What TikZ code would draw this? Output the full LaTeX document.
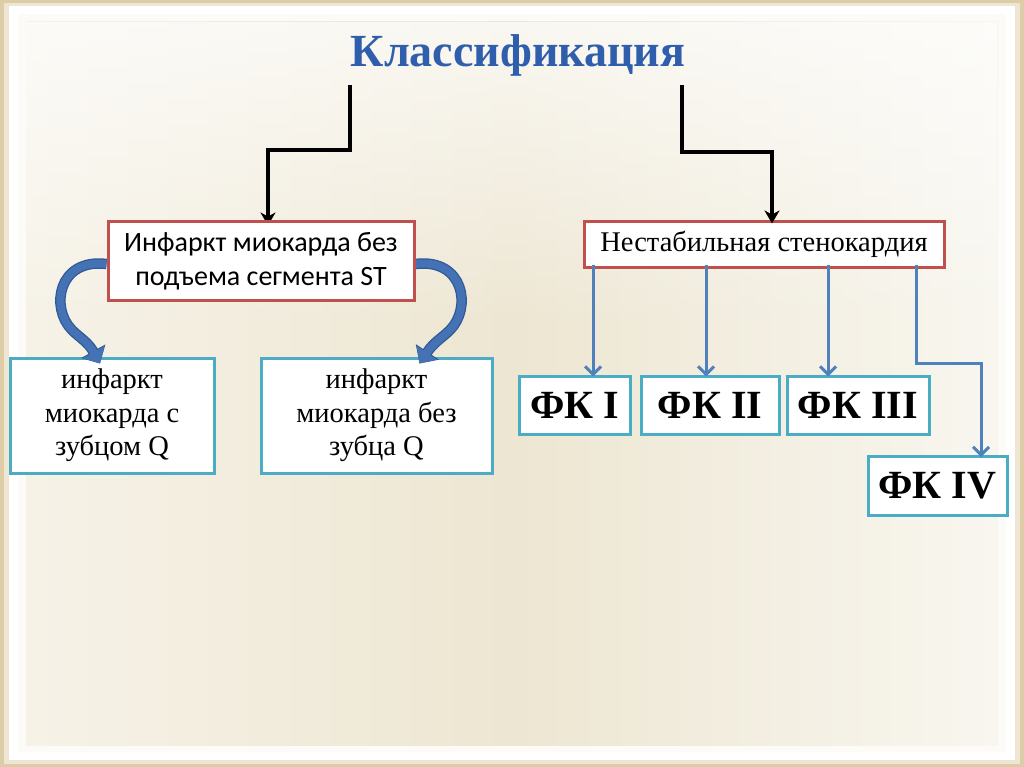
\documentclass[tikz,border=0pt]{standalone}
\usepackage{fontspec}
\setmainfont{Liberation Serif}
\newfontfamily\calib{Carlito}
\usetikzlibrary{arrows.meta,calc,fadings}
\definecolor{redb}{HTML}{C0504D}
\definecolor{cyanb}{HTML}{4BACC6}
\definecolor{bluel}{HTML}{4F81BD}
\definecolor{bluecurve}{HTML}{4472B4}
\definecolor{bluedark}{HTML}{2D5A96}
\definecolor{titleblue}{HTML}{2F5FAC}
\definecolor{bgmid}{HTML}{EDE6D2}
\definecolor{bgleft}{HTML}{F6F2E7}
\definecolor{bgright}{HTML}{F8F6EF}
\definecolor{rim}{HTML}{DDCDA6}
\tikzset{
  redbox/.style={draw=redb, line width=3pt, fill=white, inner sep=0pt, align=center},
  cyanbox/.style={draw=cyanb, line width=3pt, fill=white, inner sep=0pt, align=center},
  blackarrow/.style={draw=black, line width=3.5pt, -{Stealth[length=13pt,width=15pt,inset=4pt]}},
  bluearrow/.style={draw=bluel, line width=3pt, -{Straight Barb[length=8pt,width=16pt]}},
  curvearrow/.style={draw=bluecurve, line width=8pt, -{Triangle[width=24pt,length=13pt]}},
  curveedge/.style={draw=bluedark, line width=10.5pt, -{Triangle[width=27pt,length=14pt]}},
}
\begin{document}
\begin{tikzpicture}[x=1pt,y=-1pt]
\useasboundingbox (0,0) rectangle (1024,767);
% background frame
\fill[rim] (0,0) rectangle (1024,767);
\fill[color={rim!50!white}] (4,3) rectangle (1020,764);
\fill[white] (9,6) rectangle (1015,760);
\fill[color={white!70!bgleft}] (18,14) rectangle (1006,752);
\shade[left color=bgleft, right color=bgright, middle color=bgmid] (26,22) rectangle (998,745);
\fill[white, path fading=south, opacity=0.7] (26,22) rectangle (998,330);

% title
\node[text=titleblue, font=\bfseries\fontsize{46}{50}\selectfont] (title) at (518,55) {Классификация};

% main boxes
\node[redbox, minimum width=306pt, minimum height=78pt, font=\calib\fontsize{28}{34}\selectfont] (nstemi) at (261,261) {Инфаркт миокарда без\\подъема сегмента ST};
\node[redbox, minimum width=360pt, minimum height=45pt, font=\fontsize{28.5}{33}\selectfont] (unst) at (764,244.5) {Нестабильная стенокардия};

% lower left boxes
\node[cyanbox, minimum width=204pt, minimum height=115pt, font=\fontsize{28.5}{33.5}\selectfont] (withq) at (112,415.5) {инфаркт\\миокарда с\\зубцом Q};
\node[cyanbox, minimum width=231pt, minimum height=115pt, font=\fontsize{28.5}{33.5}\selectfont] (noq) at (376.5,415.5) {инфаркт\\миокарда без\\зубца Q};

% FK boxes
\tikzset{fkbox/.style={cyanbox, minimum height=58pt, font=\bfseries\fontsize{40}{44}\selectfont}}
\node[fkbox, minimum width=111pt] (fk1) at (574.5,405) {ФК I};
\node[fkbox, minimum width=138pt] (fk2) at (710,405) {ФК II};
\node[fkbox, minimum width=142pt] (fk3) at (858,405) {ФК III};
\node[fkbox, minimum width=139pt, minimum height=59pt] (fk4) at (937.5,486) {ФК IV};

% black elbow arrows
\coordinate (tl) at (350,85);
\coordinate (tr) at (682,85);
\draw[blackarrow] (tl) -- (350,150) -| ([xshift=7pt,yshift=-5pt]nstemi.north);
\draw[blackarrow] (tr) -- (682,152) -| ([xshift=8pt,yshift=-3pt]unst.north);

% blue straight arrows
\coordinate (a1) at (593,0);
\coordinate (a2) at (706,0);
\coordinate (a3) at (828,0);
\coordinate (k4) at (916,363);
\draw[bluearrow] ([yshift=4pt]unst.south -| a1) -- ([yshift=-2pt]a1 |- fk1.north);
\draw[bluearrow] ([yshift=4pt]unst.south -| a2) -- ([yshift=-2pt]a2 |- fk2.north);
\draw[bluearrow] ([yshift=4pt]unst.south -| a3) -- ([yshift=-2pt]a3 |- fk3.north);
\draw[bluearrow] ([yshift=4pt]unst.south -| k4) -- (k4) -| ([xshift=43.5pt,yshift=-2pt]fk4.north);

% curved block arrows
\coordinate (cl) at ([yshift=-3pt]nstemi.west);
\coordinate (cr) at ([yshift=-3pt]nstemi.east);
\draw[curveedge] (cl) .. controls (58,258) and (50,308) .. (72,330) .. controls (80,338) and (88,342) .. ([xshift=-12pt,yshift=-7pt]withq.north);
\draw[curvearrow] (cl) .. controls (58,258) and (50,308) .. (72,330) .. controls (80,338) and (88,342) .. ([xshift=-12pt,yshift=-7pt]withq.north);
\draw[curveedge] (cr) .. controls (464,258) and (472,308) .. (450,330) .. controls (442,338) and (434,342) .. ([xshift=43pt,yshift=-7pt]noq.north);
\draw[curvearrow] (cr) .. controls (464,258) and (472,308) .. (450,330) .. controls (442,338) and (434,342) .. ([xshift=43pt,yshift=-7pt]noq.north);
% redraw box over arrow starts
\node[redbox, minimum width=306pt, minimum height=78pt, font=\calib\fontsize{28}{34}\selectfont] at (nstemi) {Инфаркт миокарда без\\подъема сегмента ST};
\end{tikzpicture}
\end{document}
